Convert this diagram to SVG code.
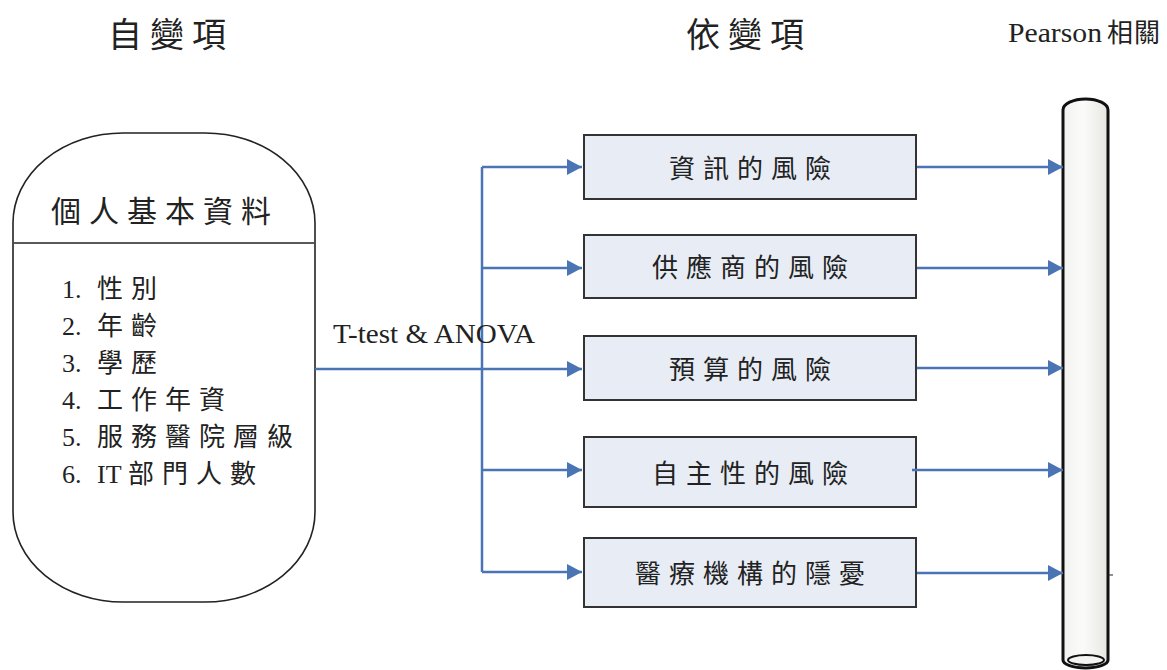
<svg xmlns="http://www.w3.org/2000/svg" width="1167" height="670" viewBox="0 0 1167 670">
<style>
.hdr{font-family:"Noto Sans CJK TC","Noto Sans CJK SC",sans-serif;font-size:34px;letter-spacing:8px;fill:#222}
.ttl{font-family:"Noto Sans CJK TC",sans-serif;font-size:30px;letter-spacing:8px;fill:#222}
.lst{font-family:"Liberation Serif","Noto Sans CJK TC",serif;font-size:26px;fill:#222}
.cj{letter-spacing:8px}
.box{fill:#e7ecf5;stroke:#333;stroke-width:2}
.btx{font-family:"Noto Sans CJK TC",sans-serif;font-size:26px;letter-spacing:8px;fill:#222}
.lat{font-family:"Liberation Serif","Noto Sans CJK TC",serif;font-size:27px;fill:#222}
.con{stroke:#4a74b4;stroke-width:2.5;fill:none}
.arr{marker-end:url(#ah)}
</style>
<defs>
<marker id="ah" markerUnits="userSpaceOnUse" markerWidth="16" markerHeight="16" refX="15" refY="8" orient="auto">
<path d="M0,0 L15,8 L0,16 Z" fill="#4a74b4"/>
</marker>
<linearGradient id="cyl" x1="0" y1="0" x2="1" y2="0">
<stop offset="0" stop-color="#f2f2ef"/>
<stop offset="0.45" stop-color="#fbfbfa"/>
<stop offset="1" stop-color="#e6e6e1"/>
</linearGradient>
</defs>
<rect width="1167" height="670" fill="#ffffff"/>

<g id="header-independent"><text class="hdr" x="108" y="47">自變項</text></g>
<g id="header-dependent"><text class="hdr" x="686" y="47">依變項</text></g>
<g id="header-pearson"><text class="lat" y="42"><tspan x="1008" textLength="94" lengthAdjust="spacingAndGlyphs">Pearson</tspan><tspan x="1107" style="font-size:26px;letter-spacing:1px">相關</tspan></text></g>

<g id="node-personal">
<rect x="13" y="133" width="302" height="469" rx="110" ry="90" fill="#ffffff" stroke="#222" stroke-width="1.6"/>
<line x1="14" y1="243" x2="314" y2="243" stroke="#222" stroke-width="1.6"/>
<text class="ttl" x="51" y="222">個人基本資料</text>
<text class="lst" y="298"><tspan x="62">1.</tspan><tspan x="97" class="cj">性別</tspan></text>
<text class="lst" y="335"><tspan x="62">2.</tspan><tspan x="97" class="cj">年齡</tspan></text>
<text class="lst" y="372"><tspan x="62">3.</tspan><tspan x="97" class="cj">學歷</tspan></text>
<text class="lst" y="409"><tspan x="62">4.</tspan><tspan x="97" class="cj">工作年資</tspan></text>
<text class="lst" y="446"><tspan x="62">5.</tspan><tspan x="97" class="cj">服務醫院層級</tspan></text>
<text class="lst" y="483"><tspan x="62">6.</tspan><tspan x="97">IT</tspan><tspan x="128" class="cj">部門人數</tspan></text>
</g>

<g id="node-info-risk"><rect class="box" x="584" y="135" width="332" height="64"/><text class="btx" x="669" y="178">資訊的風險</text></g>
<g id="node-vendor-risk"><rect class="box" x="584" y="235" width="332" height="63"/><text class="btx" x="652" y="277">供應商的風險</text></g>
<g id="node-budget-risk"><rect class="box" x="584" y="336" width="332" height="64"/><text class="btx" x="669" y="379">預算的風險</text></g>
<g id="node-autonomy-risk"><rect class="box" x="584" y="437" width="332" height="70"/><text class="btx" x="652" y="483">自主性的風險</text></g>
<g id="node-hospital-worry"><rect class="box" x="584" y="538" width="332" height="69"/><text class="btx" x="635" y="583">醫療機構的隱憂</text></g>

<g id="node-pearson-cylinder">
<path d="M1063,110 A22.5,11 0 0 1 1108,110 L1108,660 A22.5,8 0 0 1 1063,660 Z" fill="url(#cyl)" stroke="#111" stroke-width="3"/>
<ellipse cx="1086" cy="660" rx="18" ry="5" fill="#f4f4f2" stroke="#111" stroke-width="2"/>
<line x1="1108" y1="575" x2="1113" y2="575" stroke="#222" stroke-width="1"/>
</g>

<g id="connectors">
<line class="con" x1="315" y1="369" x2="482" y2="369"/>
<line class="con" x1="482" y1="167" x2="482" y2="572"/>
<line class="con arr" x1="482" y1="167" x2="582" y2="167"/>
<line class="con arr" x1="482" y1="268" x2="582" y2="268"/>
<line class="con arr" x1="482" y1="369" x2="582" y2="369"/>
<line class="con arr" x1="482" y1="470" x2="582" y2="470"/>
<line class="con arr" x1="482" y1="572" x2="582" y2="572"/>
<line class="con arr" x1="917" y1="167" x2="1063" y2="167"/>
<line class="con arr" x1="917" y1="268" x2="1063" y2="268"/>
<line class="con arr" x1="917" y1="368" x2="1063" y2="368"/>
<line class="con arr" x1="912" y1="470" x2="1063" y2="470"/>
<line class="con arr" x1="917" y1="573" x2="1063" y2="573"/>
<text class="lat" x="333" y="343" textLength="202" lengthAdjust="spacingAndGlyphs">T-test &amp; ANOVA</text>
</g>
</svg>
